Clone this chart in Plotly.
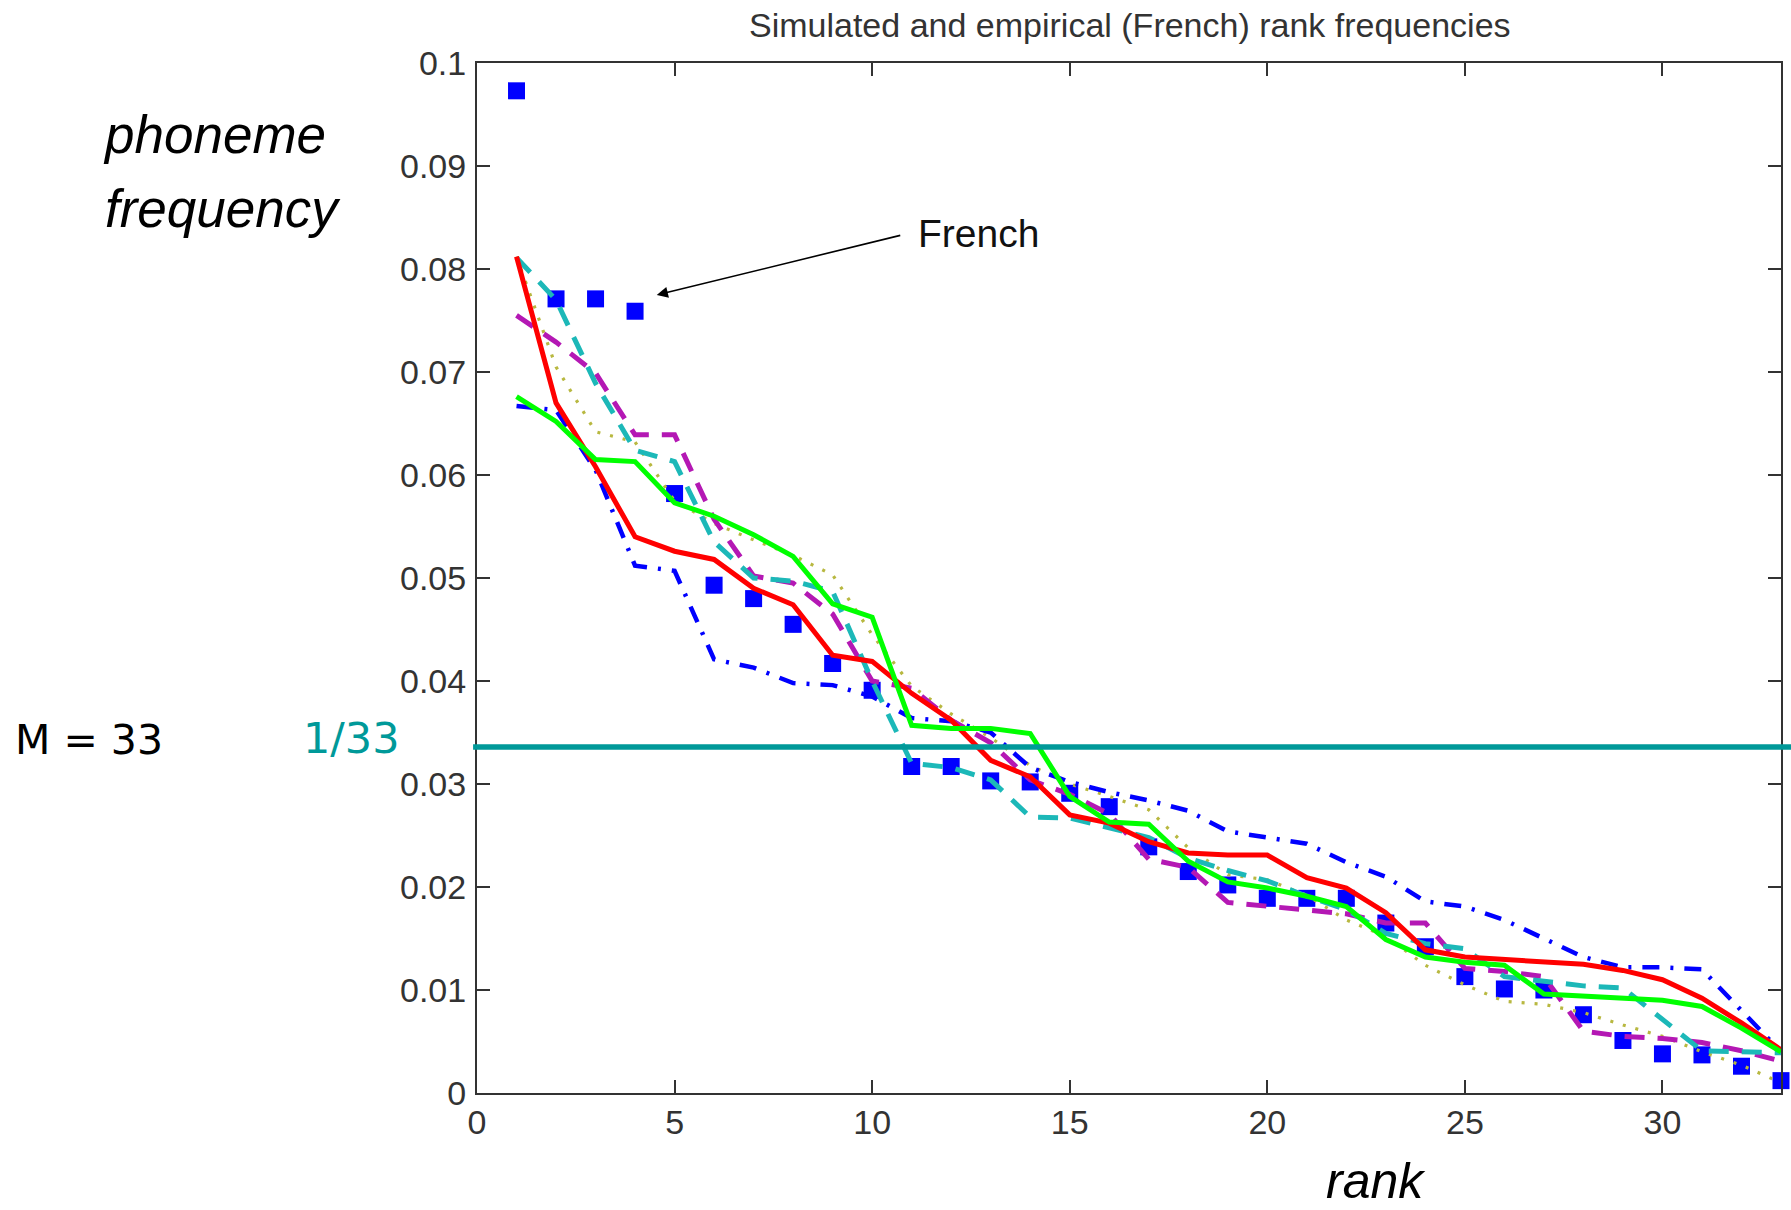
import plotly.graph_objects as go

# ---------------- data ----------------
ranks = list(range(1, 34))

french = [0.0973, 0.0771, 0.0771, 0.0759, 0.0582, 0.0493, 0.0480, 0.0455, 0.0417, 0.0391,
          0.0317, 0.0317, 0.0303, 0.0302, 0.0291, 0.0278, 0.0239, 0.0215, 0.0202, 0.0189,
          0.0189, 0.0189, 0.0165, 0.0142, 0.0113, 0.0101, 0.0100, 0.0076, 0.0051, 0.0038,
          0.0037, 0.0026, 0.0012]

sim_red = [0.0812, 0.0670, 0.0608, 0.0540, 0.0526, 0.0518, 0.0490, 0.0474, 0.0425, 0.0419,
           0.0388, 0.0362, 0.0323, 0.0307, 0.0270, 0.0262, 0.0244, 0.0233, 0.0231, 0.0231,
           0.0209, 0.0199, 0.0175, 0.0139, 0.0132, 0.0130, 0.0128, 0.0125, 0.0119, 0.0110,
           0.0092, 0.0068, 0.0042]

sim_green = [0.0676, 0.0652, 0.0615, 0.0613, 0.0573, 0.0560, 0.0542, 0.0521, 0.0475, 0.0462,
             0.0357, 0.0354, 0.0354, 0.0349, 0.0288, 0.0263, 0.0261, 0.0225, 0.0205, 0.0199,
             0.0191, 0.0181, 0.0149, 0.0132, 0.0127, 0.0124, 0.0096, 0.0094, 0.0092, 0.0090,
             0.0084, 0.0063, 0.0040]

sim_cyan = [0.0811, 0.0770, 0.0689, 0.0624, 0.0613, 0.0535, 0.0500, 0.0497, 0.0487, 0.0400,
            0.0320, 0.0316, 0.0304, 0.0268, 0.0267, 0.0257, 0.0248, 0.0228, 0.0216, 0.0206,
            0.0191, 0.0178, 0.0155, 0.0145, 0.0140, 0.0113, 0.0108, 0.0104, 0.0102, 0.0072,
            0.0041, 0.0040, 0.0039]

sim_magenta = [0.0755, 0.0729, 0.0699, 0.0639, 0.0639, 0.0557, 0.0502, 0.0495, 0.0465, 0.0400,
               0.0393, 0.0362, 0.0340, 0.0304, 0.0290, 0.0271, 0.0227, 0.0219, 0.0185, 0.0181,
               0.0178, 0.0174, 0.0165, 0.0165, 0.0121, 0.0118, 0.0113, 0.0060, 0.0055, 0.0053,
               0.0049, 0.0041, 0.0031]

sim_blue = [0.0667, 0.0663, 0.0605, 0.0512, 0.0507, 0.0421, 0.0413, 0.0398, 0.0396, 0.0385,
            0.0364, 0.0361, 0.0350, 0.0316, 0.0302, 0.0292, 0.0284, 0.0274, 0.0254, 0.0248,
            0.0242, 0.0224, 0.0210, 0.0186, 0.0181, 0.0168, 0.0150, 0.0132, 0.0122, 0.0122,
            0.0120, 0.0080, 0.0040]

sim_olive = [0.0812, 0.0705, 0.0642, 0.0632, 0.0575, 0.0553, 0.0537, 0.0522, 0.0503, 0.0445,
             0.0395, 0.0368, 0.0345, 0.0318, 0.0300, 0.0288, 0.0275, 0.0238, 0.0212, 0.0207,
             0.0192, 0.0168, 0.0152, 0.0124, 0.0105, 0.0089, 0.0086, 0.0078, 0.0066, 0.0055,
             0.0040, 0.0027, 0.0010]

uniform_level = 0.0336   # the "1/33" reference line, as drawn on the slide

x_ticks = [0, 5, 10, 15, 20, 25, 30]
y_ticks = [0, 0.01, 0.02, 0.03, 0.04, 0.05, 0.06, 0.07, 0.08, 0.09, 0.1]
y_tick_labels = ["0", "0.01", "0.02", "0.03", "0.04", "0.05", "0.06", "0.07", "0.08", "0.09", "0.1"]

# ---------------- figure ----------------
fig = go.Figure()

fig.add_trace(go.Scatter(x=ranks, y=french, mode="markers",
                         marker=dict(symbol="square", size=17, color="#0000ff",
                                     line=dict(width=0)),
                         cliponaxis=False, showlegend=False))

series = [
    (sim_olive, "#b8b840", 3.2, "3px,10px"),
    (sim_blue, "#0000ff", 4.5, "17px,11px,3px,11px"),
    (sim_magenta, "#b418b4", 5, "20px,13px"),
    (sim_cyan, "#1cb8b8", 5, "20px,13px"),
    (sim_red, "#ff0000", 5, "solid"),
    (sim_green, "#00ff00", 5, "solid"),
]
for vals, col, w, dash in series:
    fig.add_trace(go.Scatter(x=ranks, y=vals, mode="lines",
                             line=dict(color=col, width=w, dash=dash),
                             showlegend=False))

# horizontal 1/33 line
fig.add_shape(type="line", xref="paper", yref="y", x0=-0.003, x1=1.01,
              y0=uniform_level, y1=uniform_level,
              line=dict(color="#009999", width=5.5))

L, R, T, B = 477, 1783, 63, 1093
W, H = 1791, 1210


def px(xp):
    return (xp - L) / (R - L)


def py(yp):
    return (B - yp) / (B - T)


annotations = [
    dict(text="Simulated and empirical (French) rank frequencies", x=px(1131), y=py(25),
         xref="paper", yref="paper", showarrow=False, xanchor="center", yanchor="middle",
         font=dict(family="Liberation Sans", size=34, color="#333333")),
    dict(text="<i>phoneme</i>", x=px(100), y=py(134), xref="paper", yref="paper",
         showarrow=False, xanchor="left", yanchor="middle",
         font=dict(family="Liberation Sans", size=53, color="#000000")),
    dict(text="<i>frequency</i>", x=px(102), y=py(209), xref="paper", yref="paper",
         showarrow=False, xanchor="left", yanchor="middle",
         font=dict(family="Liberation Sans", size=53, color="#000000")),
    dict(text="<i>rank</i>", x=px(1377), y=py(1181), xref="paper", yref="paper",
         showarrow=False, xanchor="center", yanchor="middle",
         font=dict(family="Liberation Sans", size=50, color="#000000")),
    dict(text="M = 33", x=px(12), y=py(740), xref="paper", yref="paper",
         showarrow=False, xanchor="left", yanchor="middle",
         font=dict(family="DejaVu Sans", size=41, color="#000000")),
    dict(text="1/33", x=px(351), y=py(738), xref="paper", yref="paper",
         showarrow=False, xanchor="center", yanchor="middle",
         font=dict(family="DejaVu Sans", size=43, color="#009999")),
    dict(text="French", x=(917 - L) / 39.57, y=(B - 233) / 10300, xref="x", yref="y",
         showarrow=False, xanchor="left", yanchor="middle",
         font=dict(family="Liberation Sans", size=39, color="#111111")),
    dict(text="", x=(657 - L) / 39.57, y=(B - 295) / 10300, xref="x", yref="y",
         showarrow=True, ax=245, ay=-60, arrowhead=2, arrowsize=1.4, arrowwidth=1.6,
         arrowcolor="#000000"),
]

axis_common = dict(showgrid=False, zeroline=False, showline=True, linecolor="#333333",
                   linewidth=2, mirror="ticks", ticks="inside", ticklen=13, tickwidth=1.6,
                   tickcolor="#333333",
                   tickfont=dict(family="Liberation Sans", size=34, color="#333333"))

fig.update_layout(
    width=W, height=H,
    margin=dict(l=L, r=W - R, t=T, b=H - B, pad=0),
    paper_bgcolor="white", plot_bgcolor="white",
    xaxis=dict(range=[0, 33], tickvals=x_ticks, ticktext=[str(v) for v in x_ticks],
               ticklabelstandoff=-2, **axis_common),
    yaxis=dict(range=[0, 0.1], tickvals=y_ticks, ticktext=y_tick_labels,
               ticklabelstandoff=2, **axis_common),
    annotations=annotations,
    showlegend=False,
)

fig.write_html("out.html")
